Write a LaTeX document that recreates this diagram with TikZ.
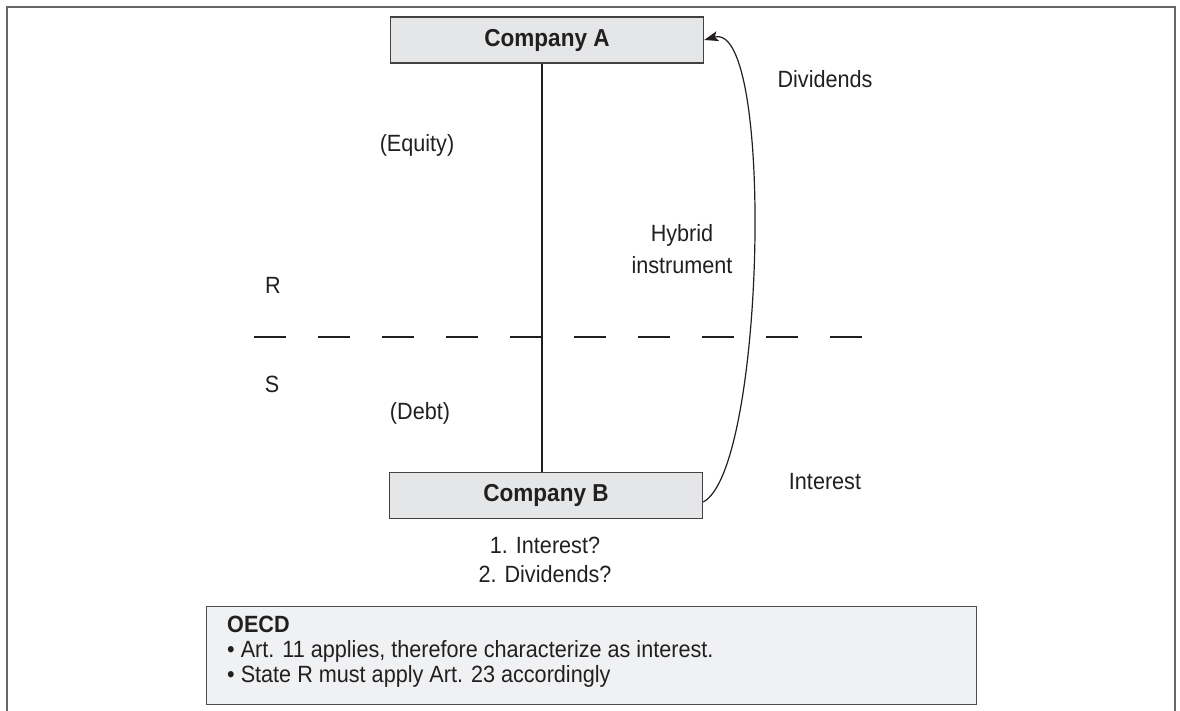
\documentclass[tikz,border=0pt]{standalone}
\usepackage{fontspec}
\setmainfont{Liberation Sans}[FakeStretch=0.92]
\usetikzlibrary{arrows.meta}
\definecolor{ink}{HTML}{231F20}
\definecolor{boxfill}{HTML}{E5E6E8}
\definecolor{notefill}{HTML}{F0F1F2}
\definecolor{framec}{HTML}{666666}
\begin{document}
\begin{tikzpicture}[x=1pt,y=-1pt,
  every node/.style={text=ink,font=\fontsize{23.5}{28}\selectfont},
  company/.style={draw=ink!85,fill=boxfill,line width=1.4pt,minimum width=313pt,minimum height=46pt,inner sep=0pt,font=\fontsize{24.5}{28}\selectfont\bfseries},
  lbl/.style={inner sep=0pt,anchor=base},
  txt/.style={inner sep=0pt,anchor=base west},
  note/.style={draw=ink!80,fill=notefill,line width=1.4pt,anchor=north west,minimum width=770pt,minimum height=98pt,inner sep=0pt}]
\useasboundingbox (0,0) rectangle (1180,711);
\draw[framec,line width=2pt] (7,712) -- (7,7) -- (1175,7) -- (1175,712);
\node[company] (A) at (547,40) {Company A};
\node[company] (B) at (546,495.5) {Company B};
\draw[ink,line width=1.1pt] ([xshift=-5pt]A.south) -- ([xshift=-4pt]B.north);
\coordinate (dl) at (254,337);
\coordinate (dr) at (862,337);
\draw[ink,line width=1.6pt,dash pattern=on 32pt off 32pt] (dl) -- (dr);
\draw[ink,line width=1.2pt,-{Stealth[length=14pt,width=10pt,inset=3pt]}] ([yshift=-6.5pt]B.east) .. controls (765,470) and (775,20) .. (A.east);
\node[lbl] (div) at (825,88) {Dividends};
\node[lbl] (eq) at (417,152) {(Equity)};
\node[lbl] (hyb1) at (682,242) {Hybrid};
\node[lbl] (hyb2) at (682,273) {instrument};
\node[lbl] (R) at (273,293) {R};
\node[lbl] (S) at (272,392) {S};
\node[lbl] (debt) at (420,419) {(Debt)};
\node[lbl] (int) at (825,489) {Interest};
\node[lbl] (q1) at (545,553) {1. Interest?};
\node[lbl] (q2) at (545,582) {2. Dividends?};
\node[note] (oecd) at (206,606) {};
\node[txt,font=\fontsize{23.5}{28}\selectfont\bfseries] (o1) at (227,632) {OECD};
\node[txt] (o2) at (227,657) {\textbullet\ Art. 11 applies, therefore characterize as interest.};
\node[txt] (o3) at (227,682) {\textbullet\ State R must apply Art. 23 accordingly};
\end{tikzpicture}
\end{document}
